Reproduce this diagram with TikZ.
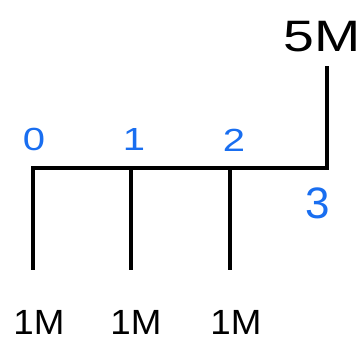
\documentclass[tikz,border=0pt]{standalone}
\usepackage{fontspec}
\setmainfont{Liberation Sans}
\definecolor{penblue}{RGB}{25,110,240}
\begin{document}
\begin{tikzpicture}[x=1pt,y=1pt,
  bar/.style={line width=4.2pt,line cap=rect,black},
  idx/.style={text=penblue,font=\fontsize{32}{32}\selectfont,inner sep=0pt,xscale=1.25},
  amt/.style={text=black,font=\fontsize{35}{35}\selectfont,inner sep=0pt,xscale=1.05}]
\useasboundingbox (0,0) rectangle (362,341);
\coordinate (t0) at (33,173);
\coordinate (t1) at (131,173);
\coordinate (t2) at (230,173);
\coordinate (t3) at (327,173);
\coordinate (b0) at (33,73);
\coordinate (b1) at (131,73);
\coordinate (b2) at (230,73);
\coordinate (u3) at (327,273);
\draw[bar] (t0) -- (t3);
\draw[bar] (t0) -- (b0);
\draw[bar] (t1) -- (b1);
\draw[bar] (t2) -- (b2);
\draw[bar] (t3) -- (u3);
\node[idx] (l0) at (34,202) {0};
\node[idx] (l1) at (134,202) {1};
\node[idx] (l2) at (234,201) {2};
\node[idx,font=\fontsize{44}{44}\selectfont,xscale=0.8] (l3) at (318,138) {3};
\node[amt,font=\fontsize{44}{44}\selectfont,xscale=1.2] (a3) at (322,304) {5M};
\node[amt] (a0) at (39,19) {1M};
\node[amt] (a1) at (136,19) {1M};
\node[amt] (a2) at (236,19) {1M};
\end{tikzpicture}
\end{document}
